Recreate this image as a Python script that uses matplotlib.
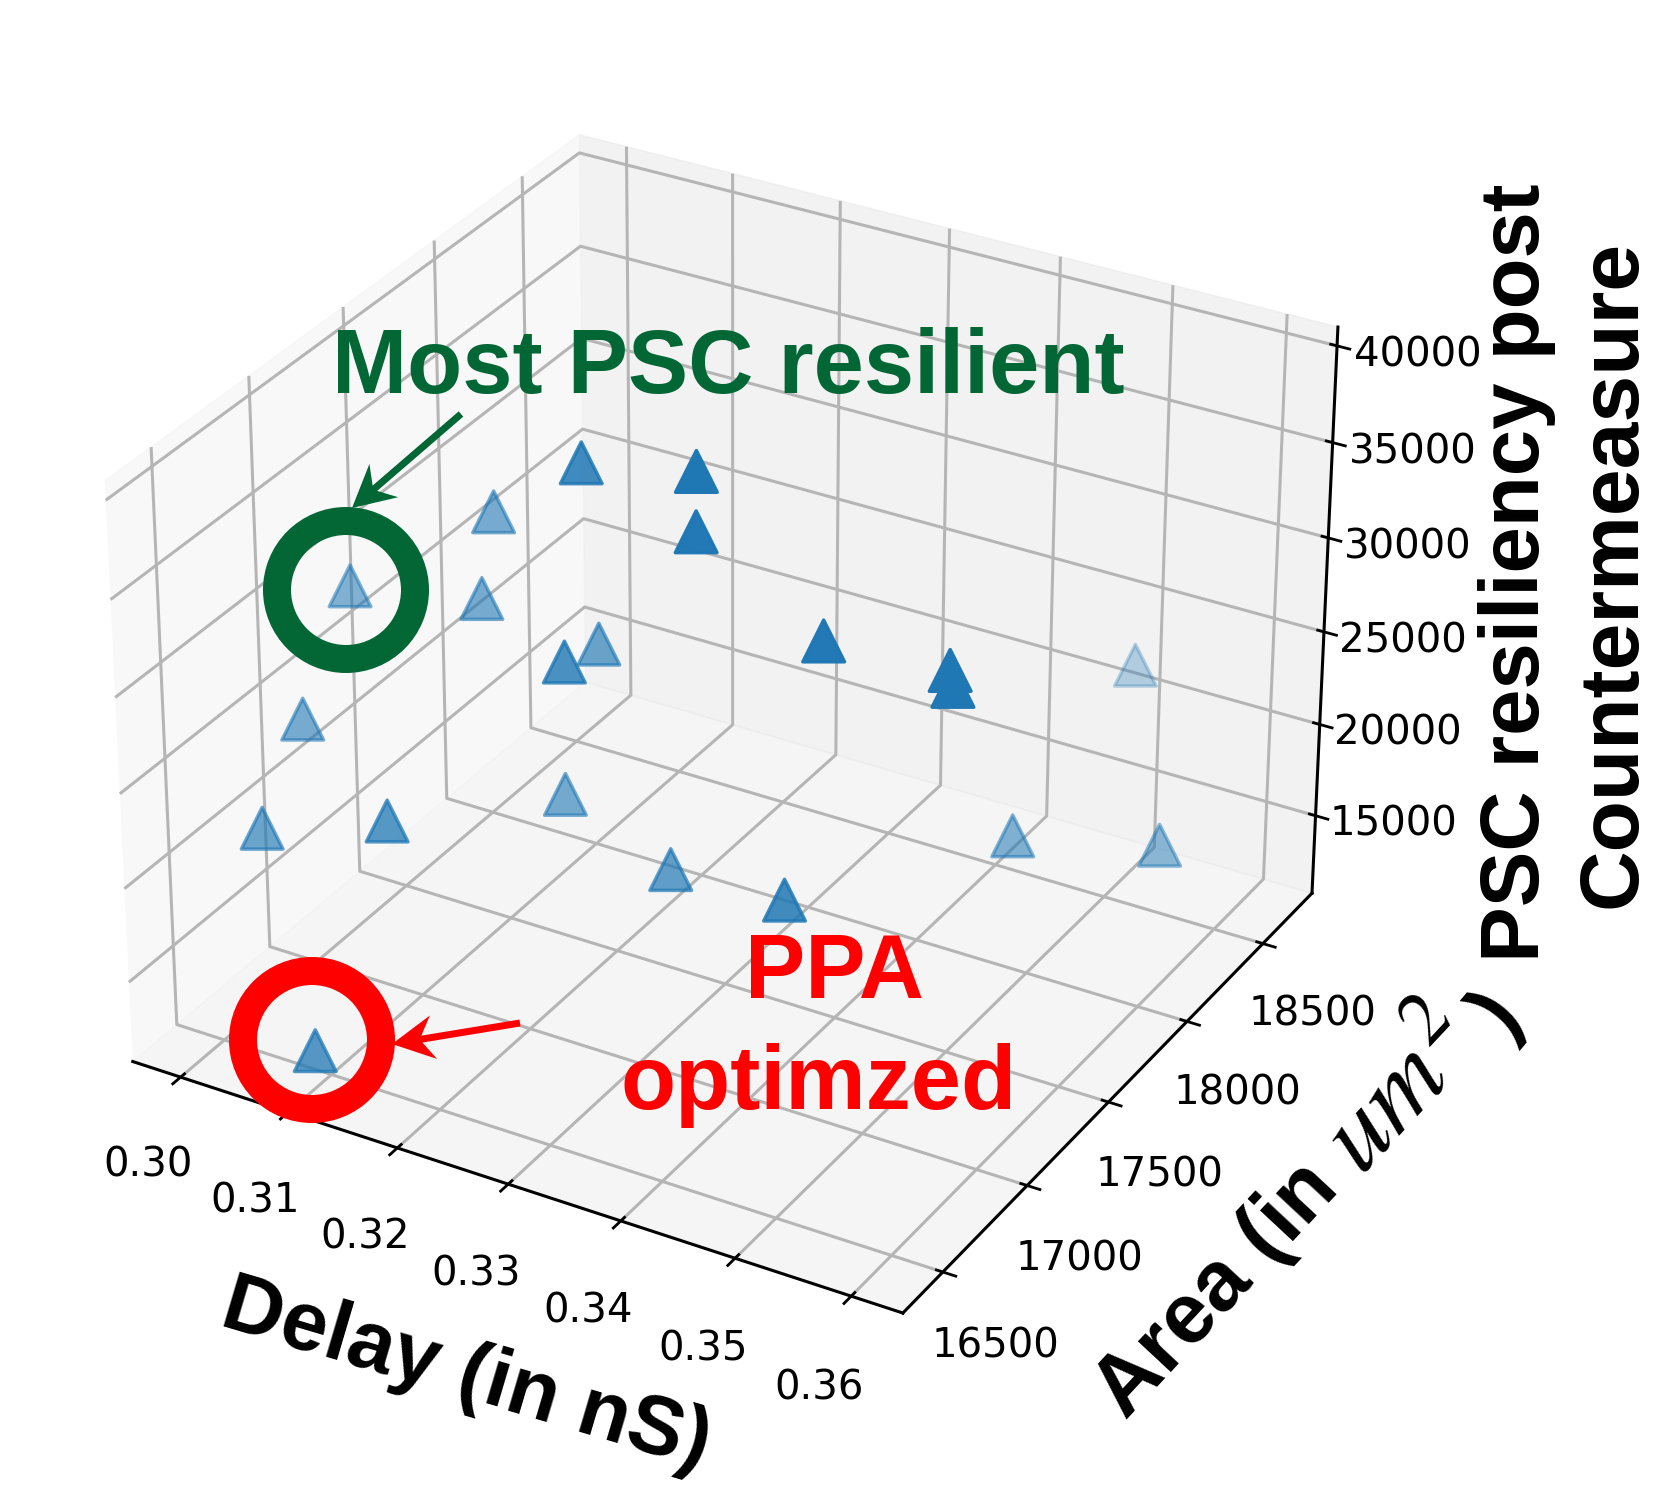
import matplotlib
matplotlib.use('Agg')
import matplotlib.pyplot as plt
import numpy as np
from matplotlib.patches import Circle, Polygon
from matplotlib.transforms import IdentityTransform

W, H = 1661, 1487
plt.rcParams['mathtext.fontset'] = 'stix'

delay = [0.31758, 0.32738, 0.32827, 0.30926, 0.30025, 0.31015, 0.31965, 0.31965, 0.33886, 0.34807, 0.34856, 0.35232, 0.30035, 0.30045, 0.31015, 0.31965, 0.32955, 0.33965, 0.35024, 0.35985, 0.30976]
area = [17473, 17506, 17447, 17487, 17225, 17361, 17433, 17240, 17494, 17623, 17607, 18491, 16948, 16712, 16824, 17236, 17214, 17221, 17877, 18123, 16433]
psc = [36532, 37391, 34879, 32574, 29204, 29122, 27738, 28297, 30624, 29633, 29015, 23850, 24322, 20431, 21607, 21333, 19240, 19363, 19243, 18411, 12540]
delay_ticks = [0.30, 0.31, 0.32, 0.33, 0.34, 0.35, 0.36]
delay_labels = ['0.30', '0.31', '0.32', '0.33', '0.34', '0.35', '0.36']
area_ticks = [16500, 17000, 17500, 18000, 18500]
psc_ticks = [15000, 20000, 25000, 30000, 35000, 40000]

GREEN = '#036635'
RED = '#ff0000'
SANS = 'Liberation Sans'

fig = plt.figure(figsize=(W / 100, H / 100), dpi=100)
ax = fig.add_axes([-0.0307, 0.0588, 0.922, 0.922], projection='3d')
ax.scatter(delay, area, psc, marker='^', s=900, color='#1f77b4', linewidths=2.5)
ax.set_xlim(0.2955, 0.3644)
ax.set_ylim(16269, 18833)
ax.set_zlim(10700, 40966)
ax.set_xticks(delay_ticks)
ax.set_xticklabels(delay_labels)
ax.set_yticks(area_ticks)
ax.set_zticks(psc_ticks)
ax.tick_params(axis='both', labelsize=29)
ax.tick_params(axis='x', pad=28)
ax.tick_params(axis='y', pad=26)
ax.tick_params(axis='z', pad=27)
for a in (ax.xaxis, ax.yaxis, ax.zaxis):
    a._axinfo['grid'].update(color='#b5b5b5', linewidth=2.2)
    a._axinfo['axisline']['linewidth'] = 2.2
    a._axinfo['tick']['linewidth'] = {True: 2.0, False: 1.5}
    a.line.set_linewidth(2.2)


def px(x, y):
    return (x / W, 1 - y / H)


def label(x, y, s, size, color='black', rot=0, **kw):
    kw.setdefault('family', SANS)
    kw.setdefault('fontweight', 'bold')
    fig.text(*px(x, y), s, fontsize=size, color=color, rotation=rot,
             rotation_mode='anchor', ha='center', va='center', **kw)


def ring(x, y, r, width, color):
    fig.add_artist(Circle((x, H - y), r, transform=IdentityTransform(), fill=False,
                          edgecolor=color, linewidth=width * 0.72, zorder=6))


def stealth(x0, y0, x1, y1, lw, hl, hw, color):
    p0 = np.array([x0, H - y0], float)
    p1 = np.array([x1, H - y1], float)
    d = (p1 - p0) / np.linalg.norm(p1 - p0)
    n = np.array([-d[1], d[0]])
    back = p1 - d * hl
    neck = p1 - d * hl * 0.72
    pts = [p0 + n * lw / 2, neck + n * lw / 2, back + n * hw / 2, p1,
           back - n * hw / 2, neck - n * lw / 2, p0 - n * lw / 2]
    fig.add_artist(Polygon(pts, closed=True, transform=IdentityTransform(),
                           facecolor=color, edgecolor='none', zorder=7))


ring(346, 590, 69, 28, GREEN)
ring(312, 1040, 69, 28, RED)
stealth(461, 414, 352, 508, 7, 42, 44, GREEN)
stealth(520, 1023, 392, 1044, 7, 42, 44, RED)

label(728, 370, 'Most PSC resilient', 65, GREEN)
label(834, 974, 'PPA', 65, RED)
label(819, 1086, 'optimzed', 65, RED)
label(466, 1375, 'Delay (in nS)', 60, rot=-16.5)
label(1517, 573, 'PSC resiliency post', 60, rot=90)
label(1613, 574, 'Countermeasure', 60.5, rot=90)
label(1217, 1290, 'Area (in', 61, rot=47)
label(1402, 1093, '$um^{2}$', 78, rot=47, fontweight='normal')
label(1499, 1015, ')', 60, rot=50)

fig.savefig('out.png', dpi=100)
